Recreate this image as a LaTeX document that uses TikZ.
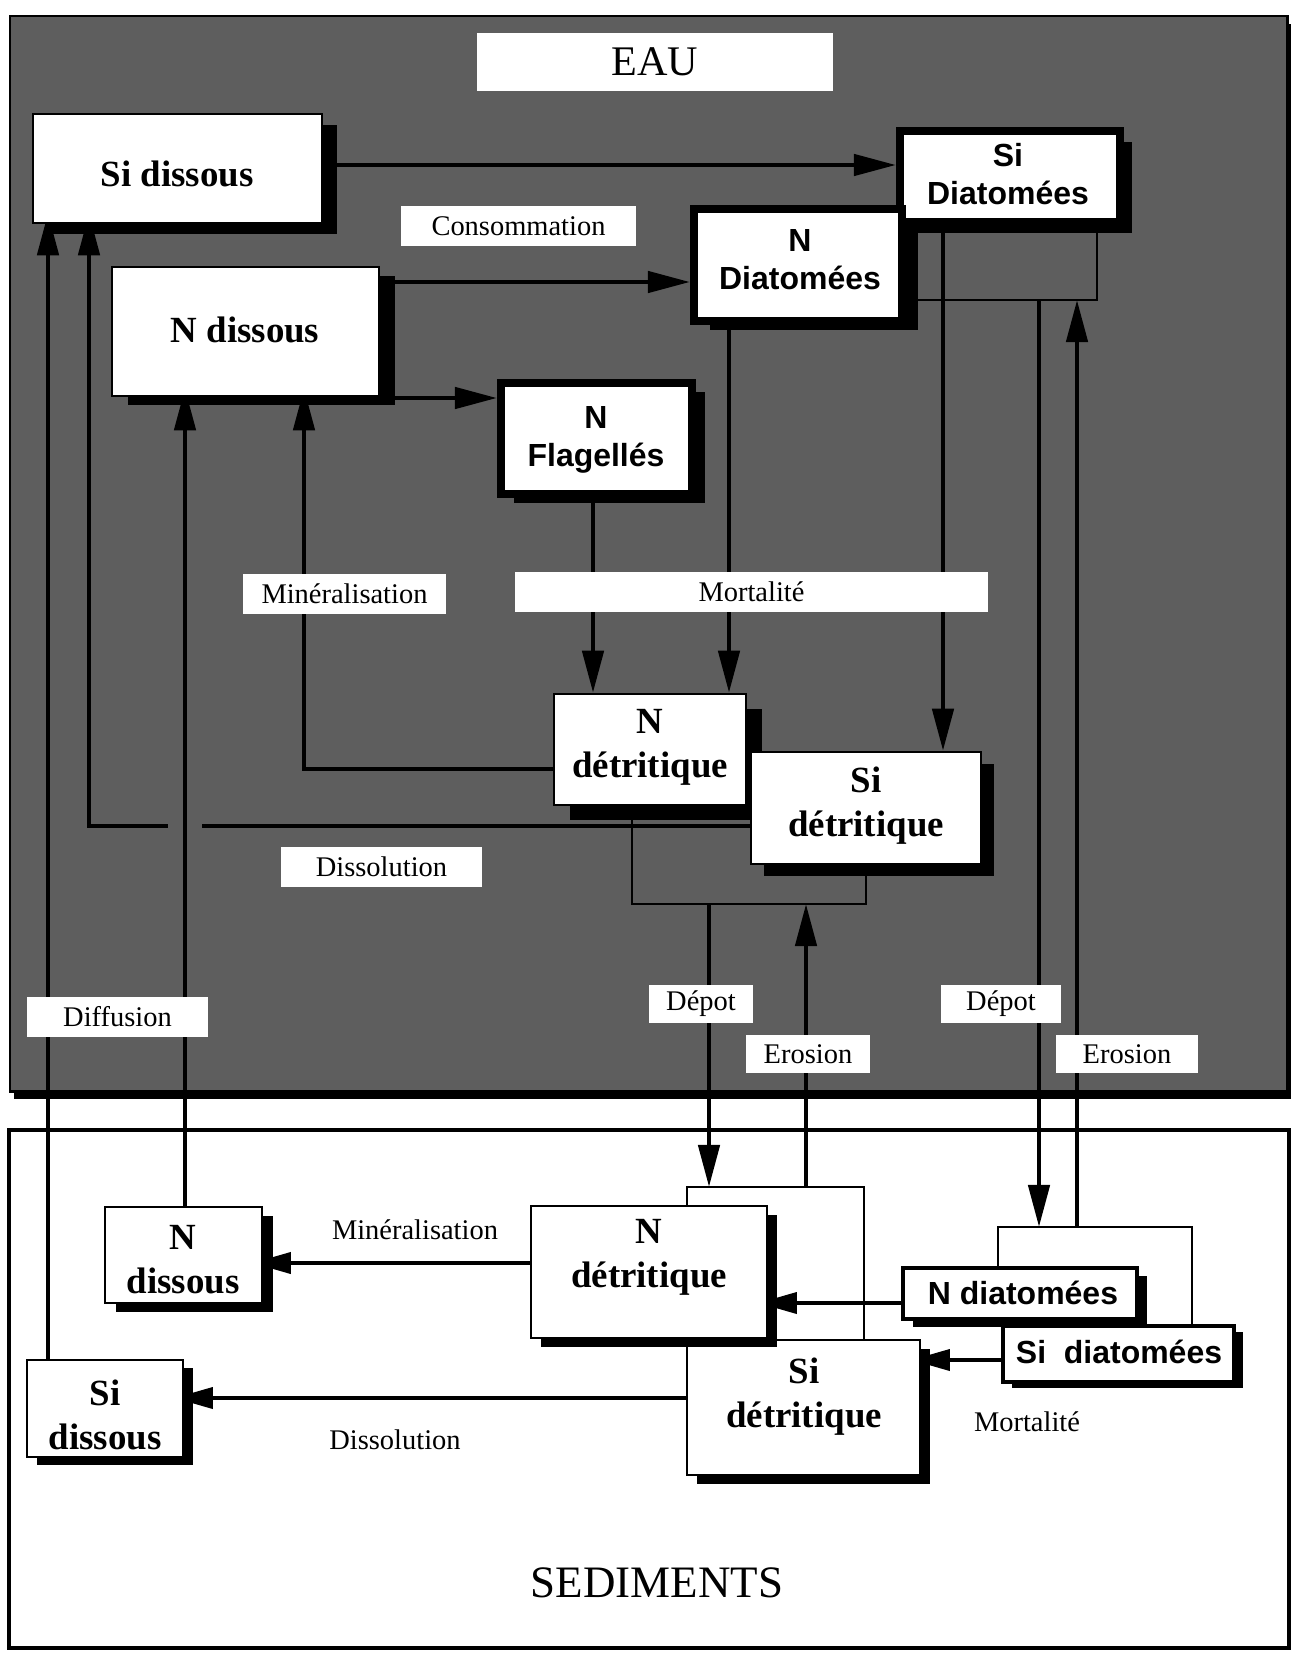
\documentclass[tikz,border=0pt]{standalone}
\usepackage{fontspec}
\setmainfont{Liberation Serif}
\newfontfamily\sansf{Liberation Sans}
\usetikzlibrary{arrows.meta,fit,shadows}
\pgfdeclarelayer{back}
\pgfdeclarelayer{mid}
\pgfsetlayers{back,mid,main}
\definecolor{waterg}{gray}{0.37}
\tikzset{
  sh/.style 2 args={drop shadow={shadow xshift=#1*0.569pt, shadow yshift=-#2*0.569pt, opacity=1, fill=black}},
  sbox/.style={draw=black, fill=white, line width=1.4pt, inner sep=0pt},
  abox/.style={draw=black, fill=white, line width=4.6pt, inner sep=0pt},
  aboxs/.style={draw=black, fill=white, line width=2.3pt, inner sep=0pt},
  lab/.style={fill=white, inner sep=0pt, outer sep=0pt, font=\fontsize{16.2}{19}\selectfont},
  plain/.style={inner sep=0pt, font=\fontsize{16.2}{19}\selectfont},
  btext/.style={inner sep=0pt, align=center, font=\bfseries\fontsize{21}{25}\selectfont},
  stext/.style={inner sep=0pt, align=center, font=\sansf\bfseries\fontsize{18.2}{21.5}\selectfont},
  conn/.style={line width=2.6pt, draw=black},
  arr/.style={conn, -{Triangle[length=24pt, width=12pt]}},
  arrs/.style={line width=2pt, draw=black, -{Triangle[length=22pt, width=12pt]}},
  brk/.style={line width=0.9pt, draw=black},
}
\begin{document}
\begin{tikzpicture}[x=0.02cm, y=-0.02cm]
\useasboundingbox (0,0) rectangle (1295,1653);

% ---------- panels ----------
\begin{pgfonlayer}{back}
\node[fit={(10,16) (1287,1091)}, inner sep=0pt, fill=waterg, draw=black, line width=1.7pt, sh={4}{8}] (eau) {};
\node[fit={(9,1130) (1289,1648)}, inner sep=0pt, fill=white, draw=black, line width=2.3pt] (sed) {};
\end{pgfonlayer}

% ---------- water boxes ----------
\node[sbox, sh={15}{11}, fit={(33,114) (322,223)}] (sidw) {};
\node[btext] (sidw-t) at (177,173.5) {Si dissous};
\node[sbox, sh={16}{9}, fit={(112,267) (379,396)}] (ndw) {};
\node[btext] (ndw-t) at (245,329.5) {N dissous};
\node[abox, sh={12}{11}, fit={(900,131) (1120,222)}] (sidiat) {};
\node[stext] (sidiat-t) at (1008,174) {Si\\Diatomées};
\node[abox, sh={16}{9}, fit={(694,209) (902,321)}] (ndiat) {};
\node[stext] (ndiat-t) at (800,260) {N\\Diatomées};
\node[abox, sh={13}{9}, fit={(501,383) (692,494)}] (nflag) {};
\node[stext] (nflag-t) at (596,440) {N\\Flagellés};
\node[sbox, sh={16}{15}, fit={(554,694) (746,805)}] (ndetw) {};
\node[btext] (ndetw-t) at (650,747) {N\\détritique};
\node[sbox, sh={13}{12}, fit={(751,752) (981,864)}] (sidetw) {};
\node[btext] (sidetw-t) at (866,806) {Si\\détritique};

% ---------- sediment boxes ----------
\node[sbox, sh={11}{9}, fit={(105,1207) (262,1303)}] (nds) {};
\node[btext] (nds-t) at (183,1260) {N\\dissous};
\node[sbox, sh={10}{8}, fit={(27,1360) (183,1457)}] (sids) {};
\node[btext] (sids-t) at (105,1415) {Si\\dissous};
\node[sbox, sh={10}{9}, fit={(687,1340) (920,1475)}] (sidets) {};
\node[btext] (sidets-t) at (804,1397) {Si\\détritique};
\node[sbox, sh={10}{9}, fit={(531,1206) (767,1338)}] (ndets) {};
\node[btext] (ndets-t) at (649,1257) {N\\détritique};
\node[aboxs, sh={10}{8}, fit={(903,1268) (1137,1319)}] (ndiats) {};
\node[stext] (ndiats-t) at (1023,1293) {N diatomées};
\node[aboxs, sh={9}{6}, fit={(1003,1326) (1234,1382)}] (sidiats) {};
\node[stext] (sidiats-t) at (1119,1352) {Si\ \ diatomées};

% ---------- labels ----------
\node[lab, minimum width=202.6pt, minimum height=33pt, font=\fontsize{24}{28}\selectfont] (leau) at (655,62) {EAU};
\node[lab, minimum width=133.7pt, minimum height=22.8pt] (lcons) at (518.5,226) {Consommation};
\node[lab, minimum width=115.5pt, minimum height=22.8pt] (lminw) at (344.5,594) {Minéralisation};
\node[lab, minimum width=269.2pt, minimum height=22.8pt] (lmortw) at (751.5,592) {Mortalité};
\node[lab, minimum width=114.4pt, minimum height=22.8pt] (ldissw) at (381.5,867) {Dissolution};
\node[lab, minimum width=103pt, minimum height=22.8pt] (ldiff) at (117.5,1017) {Diffusion};
\node[lab, minimum width=59.2pt, minimum height=21.6pt] (ldep1) at (701,1004) {Dépot};
\node[lab, minimum width=70.6pt, minimum height=21.6pt] (lero1) at (808,1054) {Erosion};
\node[lab, minimum width=68.3pt, minimum height=21.6pt] (ldep2) at (1001,1004) {Dépot};
\node[lab, minimum width=80.8pt, minimum height=21.6pt] (lero2) at (1127,1054) {Erosion};
\node[plain] (lmins) at (415,1230) {Minéralisation};
\node[plain] (ldisss) at (395,1440) {Dissolution};
\node[plain] (lmorts) at (1027,1422) {Mortalité};
\node[font=\fontsize{25.6}{30}\selectfont, inner sep=0pt] (lsed) at (657,1583) {SEDIMENTS};

% ---------- bracket junctions ----------
\coordinate (wbrN) at (700,904);
\coordinate (sbrN) at (750,1187);
\coordinate (wbrD) at (1000,300);
\coordinate (sbrD) at (1100,1227);

% ---------- connectors ----------
\begin{pgfonlayer}{mid}
% consommation
\draw[arr] (sidw.east |- 0,165) -- (sidiat.west |- 0,165);
\draw[arr] (ndw.east |- 0,282) -- (ndiat.west |- 0,282);
\draw[arr] (ndw.east |- 0,398) -- (nflag.west |- 0,398);
% mortalite (eau)
\draw[arr] (nflag.south -| 593,0) -- (ndetw.north -| 593,0);
\draw[arr] (ndiat.south -| 729,0) -- (ndetw.north -| 729,0);
\draw[arr] (sidiat.south -| 943,0) -- (sidetw.north -| 943,0);
% mineralisation (eau)
\draw[arr, shorten >=-5.1pt] (ndetw.west |- 0,769) -| (ndw.south -| 304,0);
% dissolution (eau)
\draw[arr, shorten >=-6.3pt] (sidetw.west |- 0,826) -| (sidw.south -| 89,0);
\draw[waterg, line width=19pt] (185,820) -- (185,832);
% diffusion
\draw[arr, shorten >=-5.1pt] (nds.north -| 185,0) -- (ndw.south -| 185,0);
\draw[arr, shorten >=-6.3pt] (sids.north -| 48,0) -- (sidw.south -| 48,0);
% brackets
\draw[brk] (ndetw.south -| 632,0) |- (wbrN) -| (sidetw.south -| 866,0);
\draw[brk] (ndets.north -| 687,0) |- (sbrN) -| (sidets.north -| 864,0);
\draw[brk] (ndiat.east |- wbrD) -| (sidiat.south -| 1097,0);
\draw[brk] (ndiats.north -| 998,0) |- (sbrD) -| (sidiats.north -| 1192,0);
% depot / erosion
\draw[arr] (wbrN -| 709,0) -- (sbrN -| 709,0);
\draw[arr] (sbrN -| 806,0) -- (wbrN -| 806,0);
\draw[arr] (wbrD -| 1039,0) -- (sbrD -| 1039,0);
\draw[arr] (sbrD -| 1077,0) -- (wbrD -| 1077,0);
% sediment fluxes
\draw[arrs, shorten >=-5.7pt] (ndiats.west |- 0,1303) -- (ndets.east |- 0,1303);
\draw[arrs, shorten >=-5.7pt] (sidiats.west |- 0,1360) -- (sidets.east |- 0,1360);
\draw[arrs, shorten >=-6.3pt] (ndets.west |- 0,1263) -- (nds.east |- 0,1263);
\draw[arrs, shorten >=-5.7pt] (sidets.west |- 0,1398) -- (sids.east |- 0,1398);
\end{pgfonlayer}
\end{tikzpicture}
\end{document}
